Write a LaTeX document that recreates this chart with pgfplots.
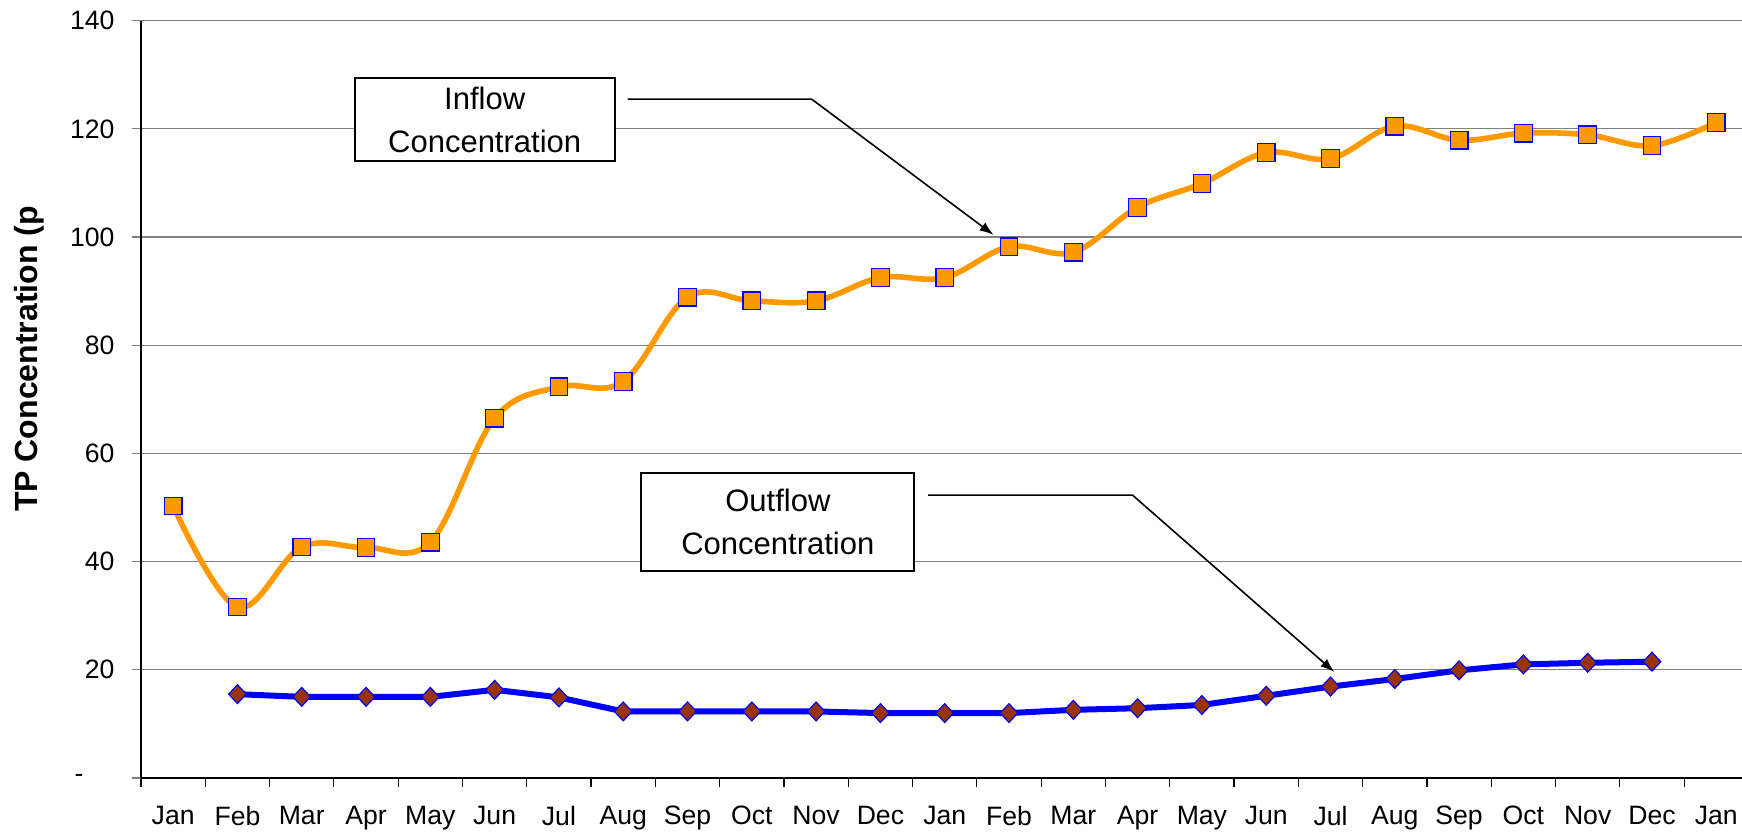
\documentclass[border=0pt]{standalone}
\usepackage{fontspec}
\setmainfont{Liberation Sans}
\usepackage{pgfplots}
\pgfplotsset{compat=1.18}
\usetikzlibrary{arrows.meta}
\definecolor{orng}{HTML}{FF9900}
\definecolor{brn}{HTML}{993300}
\definecolor{gridgray}{HTML}{808080}

\pgfplotstableread{
x y
0 50.3
1 31.6
2 42.7
3 42.6
4 43.6
5 66.5
6 72.3
7 73.3
8 88.9
9 88.2
10 88.2
11 92.5
12 92.5
13 98.2
14 97.2
15 105.5
16 109.9
17 115.6
18 114.5
19 120.5
20 117.9
21 119.2
22 118.9
23 116.9
24 121.2
}\inflow

\pgfplotstableread{
x y
1 15.5
2 15.0
3 15.0
4 15.0
5 16.3
6 14.9
7 12.3
8 12.3
9 12.3
10 12.3
11 12.0
12 12.0
13 12.0
14 12.6
15 12.9
16 13.5
17 15.2
18 16.9
19 18.3
20 19.9
21 21.0
22 21.3
23 21.5
}\outflow

\begin{document}
\begin{tikzpicture}
\begin{axis}[
  at={(0,0)}, anchor=south west,
  scale only axis, width=800.5pt, height=378.65pt,
  xmin=-0.5, xmax=24.4, ymin=0, ymax=140,
  axis x line*=bottom, axis y line*=left,
  axis line style={black, line width=0.8pt, -},
  tick align=outside,
  major tick length=4.5pt,
  xtick={-0.5,0.5,...,23.5}, xticklabels={},
  x tick style={black, line width=0.6pt},
  extra x ticks={0,1,...,24},
  extra x tick labels={Jan,Feb,Mar,Apr,May,Jun,Jul,Aug,Sep,Oct,Nov,Dec,Jan,Feb,Mar,Apr,May,Jun,Jul,Aug,Sep,Oct,Nov,Dec,Jan},
  extra x tick style={major tick length=0pt, grid=none, tick label style={yshift=-10.5pt}},
  ytick={0,20,...,140},
  yticklabels={{-\hspace*{15.5pt}},20,40,60,80,100,120,140},
  y tick style={gridgray, line width=0.6pt},
  ymajorgrids,
  grid style={gridgray, line width=0.6pt},
  tick label style={font=\fontsize{13.3}{16}\selectfont},
  yticklabel style={xshift=-5.2pt},
  clip=true,
]
\addplot[orng, line width=2.8pt, smooth, tension=0.6, mark=square*, mark size=4.4pt,
  mark options={fill=orng, draw=blue, line width=0.6pt, solid}] table[x=x,y=y] {\inflow};
\addplot[blue, line width=3pt, mark=diamond*, mark size=4.7pt,
  mark options={fill=brn, draw=blue, line width=0.6pt, xscale=1.25, solid}] table[x=x,y=y] {\outflow};

\node[draw=black, line width=1pt, fill=white, minimum width=130pt, minimum height=41.5pt,
  align=center, inner sep=0pt, font=\fontsize{15.5}{21.6}\selectfont]
  at (axis cs:4.845,121.7) {Inflow\\Concentration};
\draw[black, line width=0.8pt, -{Latex[length=7pt,width=5pt]}]
  (axis cs:7.07,125.5) -- (axis cs:9.93,125.5) -- (axis cs:12.76,100.4);

\node[draw=black, line width=1pt, fill=white, minimum width=136.6pt, minimum height=49pt,
  align=center, inner sep=0pt, font=\fontsize{15.5}{21.6}\selectfont]
  at (axis cs:9.405,47.3) {Outflow\\Concentration};
\draw[black, line width=0.8pt, -{Latex[length=7pt,width=5pt]}]
  (axis cs:11.74,52.3) -- (axis cs:14.92,52.3) -- (axis cs:18.06,19.6);
\end{axis}
\node[rotate=90, anchor=base, font=\bfseries\fontsize{16}{19}\selectfont] at (-52pt,209.5pt) {TP Concentration (p};
\pgfresetboundingbox
\path (-70.5pt,-28pt) rectangle (800.5pt,389pt);
\end{tikzpicture}
\end{document}
